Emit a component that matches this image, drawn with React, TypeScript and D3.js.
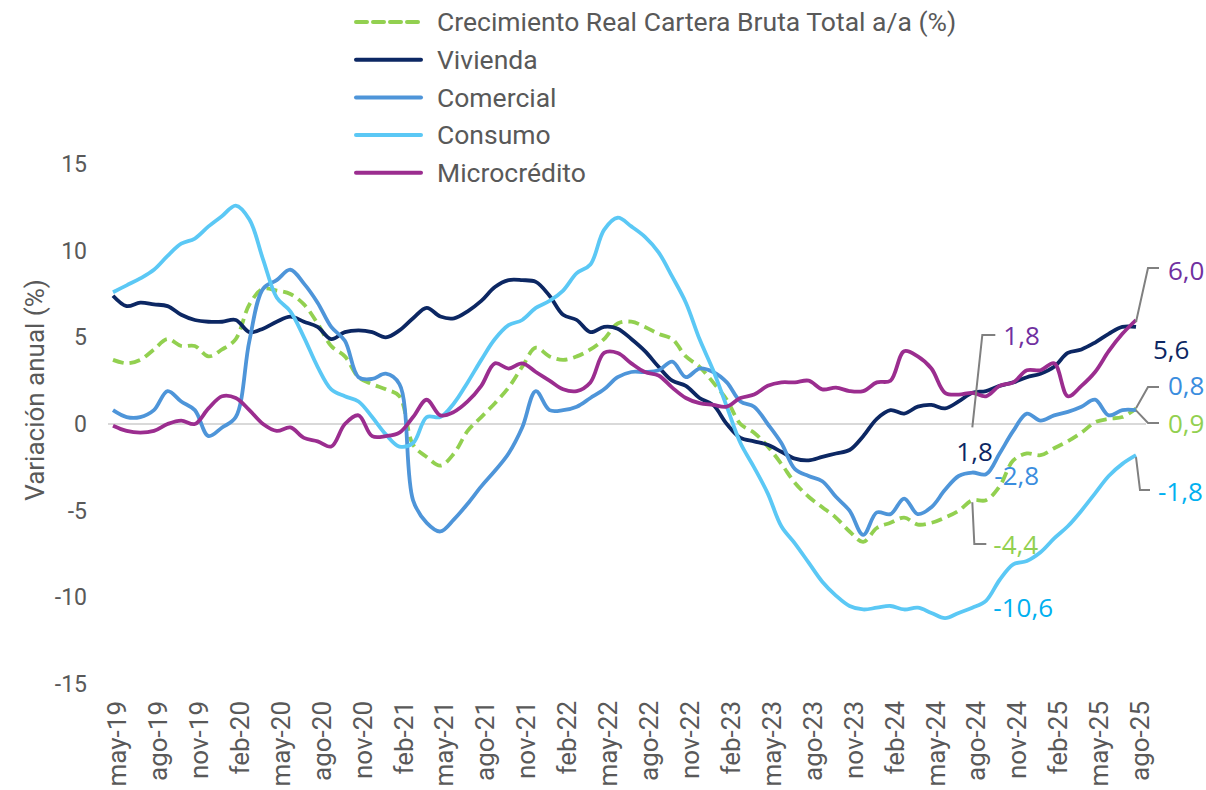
import * as d3 from 'd3'

const months = ['ene', 'feb', 'mar', 'abr', 'may', 'jun', 'jul', 'ago', 'sep', 'oct', 'nov', 'dic']
// may-19 .. ago-25, one value per month
const dates = d3.range(76).map(i => {
  const m = (4 + i) % 12
  const y = 19 + Math.floor((4 + i) / 12)
  return `${months[m]}-${y}`
})

const total = [3.7, 3.5, 3.7, 4.3, 4.9, 4.5, 4.5, 3.9, 4.3, 4.9, 6.9, 7.8, 7.7, 7.5, 6.9, 5.8, 4.5, 3.9, 2.7, 2.3,
  2.0, 1.6, -1.2, -1.9, -2.4, -1.7, -0.4, 0.4, 1.2, 2.1, 3.3, 4.4, 3.9, 3.7, 3.9, 4.3, 4.9, 5.8, 5.9, 5.6,
  5.2, 4.9, 3.9, 3.3, 2.4, 1.4, 0.0, -0.5, -1.3, -2.3, -3.4, -4.2, -4.8, -5.4, -6.2, -6.8, -6.0, -5.7, -5.4, -5.8,
  -5.7, -5.4, -5.0, -4.4, -4.4, -3.6, -2.1, -1.7, -1.8, -1.4, -1.0, -0.5, 0.1, 0.3, 0.4, 0.9]

const vivienda = [7.4, 6.8, 7.0, 6.9, 6.8, 6.3, 6.0, 5.9, 5.9, 6.0, 5.3, 5.5, 5.9, 6.2, 5.9, 5.6, 4.9, 5.3, 5.4, 5.3,
  5.0, 5.4, 6.1, 6.7, 6.2, 6.1, 6.5, 7.1, 7.9, 8.3, 8.3, 8.2, 7.4, 6.3, 6.0, 5.3, 5.6, 5.5, 4.9, 4.2,
  3.3, 2.5, 2.2, 1.5, 1.1, 0.0, -0.8, -1.0, -1.2, -1.6, -2.0, -2.1, -1.9, -1.7, -1.5, -0.7, 0.3, 0.8, 0.6, 1.0,
  1.1, 0.9, 1.3, 1.8, 1.9, 2.2, 2.4, 2.7, 2.9, 3.3, 4.1, 4.3, 4.7, 5.2, 5.6, 5.6]

const comercial = [0.8, 0.4, 0.4, 0.8, 1.9, 1.3, 0.8, -0.7, -0.2, 0.4, 4.8, 7.8, 8.3, 8.9, 8.1, 7.0, 5.6, 4.8, 2.7, 2.6,
  2.9, 2.3, -4.4, -5.7, -6.2, -5.5, -4.6, -3.6, -2.7, -1.7, -0.2, 1.9, 0.8, 0.8, 1.0, 1.5, 2.0, 2.7, 3.0, 3.0,
  3.1, 3.6, 2.7, 3.2, 3.0, 2.4, 1.3, 1.0, 0.0, -1.1, -2.6, -3.0, -3.3, -4.2, -5.0, -6.4, -5.1, -5.2, -4.3, -5.2,
  -4.8, -3.8, -3.0, -2.8, -2.9, -1.7, -0.4, 0.6, 0.2, 0.5, 0.7, 1.0, 1.4, 0.5, 0.8, 0.8]

const consumo = [7.6, 8.0, 8.4, 8.9, 9.7, 10.4, 10.7, 11.4, 12.0, 12.6, 11.8, 9.5, 7.3, 6.5, 5.0, 3.3, 2.0, 1.6, 1.3, 0.4,
  -0.6, -1.3, -1.1, 0.4, 0.4, 1.2, 2.4, 3.7, 4.9, 5.7, 6.0, 6.7, 7.1, 7.7, 8.7, 9.2, 11.2, 11.9, 11.4, 10.8,
  9.9, 8.5, 7.0, 4.9, 3.1, 1.0, -1.1, -2.5, -4.0, -5.9, -6.9, -8.0, -9.1, -9.9, -10.5, -10.7, -10.6, -10.5, -10.7, -10.6,
  -10.9, -11.2, -10.9, -10.6, -10.2, -9.0, -8.1, -7.9, -7.4, -6.6, -5.9, -5.0, -4.0, -3.0, -2.3, -1.8]

const micro = [-0.1, -0.4, -0.5, -0.4, 0.0, 0.2, 0.0, 0.9, 1.6, 1.5, 0.8, 0.0, -0.4, -0.2, -0.8, -1.0, -1.3, 0.0, 0.5, -0.7,
  -0.7, -0.5, 0.4, 1.4, 0.5, 0.7, 1.3, 2.2, 3.5, 3.2, 3.5, 3.0, 2.5, 2.0, 1.9, 2.4, 4.1, 4.1, 3.5, 3.0,
  2.8, 2.1, 1.5, 1.2, 1.1, 1.0, 1.5, 1.7, 2.2, 2.4, 2.4, 2.5, 2.0, 2.1, 1.9, 1.9, 2.4, 2.5, 4.2, 3.9,
  3.2, 1.8, 1.7, 1.8, 1.6, 2.2, 2.4, 3.1, 3.1, 3.5, 1.6, 2.2, 3.0, 4.2, 5.2, 6.0]

const seriesNames = ['Crecimiento Real Cartera Bruta Total a/a (%)', 'Vivienda', 'Comercial', 'Consumo', 'Microcrédito']
const seriesData = [total, vivienda, comercial, consumo, micro]
const seriesColors = ['#92D050', '#0C2763', '#4E95D9', '#5BC8F5', '#9B2D8F']
const yTicks = [-15, -10, -5, 0, 5, 10, 15]

const font = 'Roboto, "Noto Sans", sans-serif'
const labelFont = '"Open Sans", "Noto Sans", sans-serif'
const gray = '#595959'
const leaderGray = '#808080'

export default function App() {
  const width = 1206
  const height = 790
  const x = d3.scaleLinear().domain([0, dates.length - 1]).range([113, 1136])
  const y = d3.scaleLinear().domain([-15, 15]).range([684, 164])

  const line = d3.line<number>()
    .x((d, i) => x(i))
    .y(d => y(d))
    .curve(d3.curveCatmullRom.alpha(0.5))

  const last = dates.length - 1
  const mark = dates.indexOf('ago-24')
  const fmt = (v: number) => d3.format('.1f')(v).replace('.', ',').replace('−', '-')

  // leader lines: [x0, y0, x1, y1, x2, y2]
  const leaders = [
    [x(mark), y(-0.2), x(mark) + 10, 335, x(mark) + 23, 335],
    [x(last), y(micro[last]) + 2, x(last) + 12, 268, x(last) + 23, 268],
    [x(last), y(comercial[last]) - 2, x(last) + 12, 387, x(last) + 23, 387],
    [x(last), y(total[last]) + 2, x(last) + 12, 423, x(last) + 23, 423],
    [x(last), y(consumo[last]) + 2, x(last) + 4, 490, x(last) + 14, 490],
    [x(mark), y(total[mark]) + 2, x(mark) + 2, 544, x(mark) + 14, 544],
  ]

  const labels = [
    { t: fmt(micro[mark]), x: x(mark) + 31, y: 336, c: '#7030A0' },
    { t: fmt(vivienda[mark]), x: x(mark) - 16, y: 452, c: '#0C2763' },
    { t: fmt(comercial[mark]), x: x(mark) + 22, y: 476, c: '#3A8DDE' },
    { t: fmt(total[mark]), x: x(mark) + 21, y: 545, c: '#92D050' },
    { t: fmt(consumo[mark]), x: x(mark) + 21, y: 608, c: '#00B0F0' },
    { t: fmt(micro[last]), x: x(last) + 32, y: 271, c: '#7030A0' },
    { t: fmt(vivienda[last]), x: x(last) + 17, y: 350, c: '#0C2763' },
    { t: fmt(comercial[last]), x: x(last) + 32, y: 386, c: '#3A8DDE' },
    { t: fmt(total[last]), x: x(last) + 32, y: 424, c: '#92D050' },
    { t: fmt(consumo[last]), x: x(last) + 22, y: 492, c: '#00B0F0' },
  ]

  return (
    <svg width={width} height={height} style={{ position: 'absolute', left: 0, top: 0, background: '#fff' }}>
      {/* legend */}
      {seriesNames.map((name, i) => (
        <g key={name} transform={`translate(0, ${22 + i * 37.7})`}>
          <line x1={356} x2={421} y1={0} y2={0} stroke={seriesColors[i]} strokeWidth={4}
            strokeDasharray={i === 0 ? '11,6' : undefined} strokeLinecap="round" />
          <text x={437} y={0} dy="0.35em" fontFamily={font} fontSize={26.5} fill={gray}>{name}</text>
        </g>
      ))}

      {/* y axis */}
      {yTicks.map(t => (
        <text key={t} x={87} y={y(t)} dy="0.35em" textAnchor="end" fontFamily={font} fontSize={23} fill={gray}>{t}</text>
      ))}
      <text transform={`translate(35, 390) rotate(-90)`} textAnchor="middle" dy="0.35em"
        fontFamily={font} fontSize={26} fill={gray}>Variación anual (%)</text>

      {/* x axis labels every 3 months */}
      {dates.map((d, i) => i % 3 === 0 ? (
        <text key={d} transform={`translate(${x(i) + 4}, 701) rotate(-90)`} textAnchor="end" dy="0.35em"
          fontFamily={font} fontSize={26} fill={gray}>{d}</text>
      ) : null)}

      {/* zero line */}
      <line x1={108} x2={1146} y1={y(0)} y2={y(0)} stroke="#D9D9D9" strokeWidth={2} />

      {/* series */}
      {seriesData.map((s, i) => (
        <path key={seriesNames[i]} d={line(s) || ''} fill="none" stroke={seriesColors[i]} strokeWidth={3.8}
          strokeDasharray={i === 0 ? '11,6' : undefined} strokeLinejoin="round" />
      ))}

      {/* leaders */}
      {leaders.map((l, i) => (
        <polyline key={i} points={`${l[0]},${l[1]} ${l[2]},${l[3]} ${l[4]},${l[5]}`} fill="none"
          stroke={leaderGray} strokeWidth={2} />
      ))}

      {/* data labels */}
      {labels.map((l, i) => (
        <text key={i} x={l.x} y={l.y} dy="0.35em" fontFamily={labelFont} fontSize={26} fill={l.c}>{l.t}</text>
      ))}
    </svg>
  )
}
